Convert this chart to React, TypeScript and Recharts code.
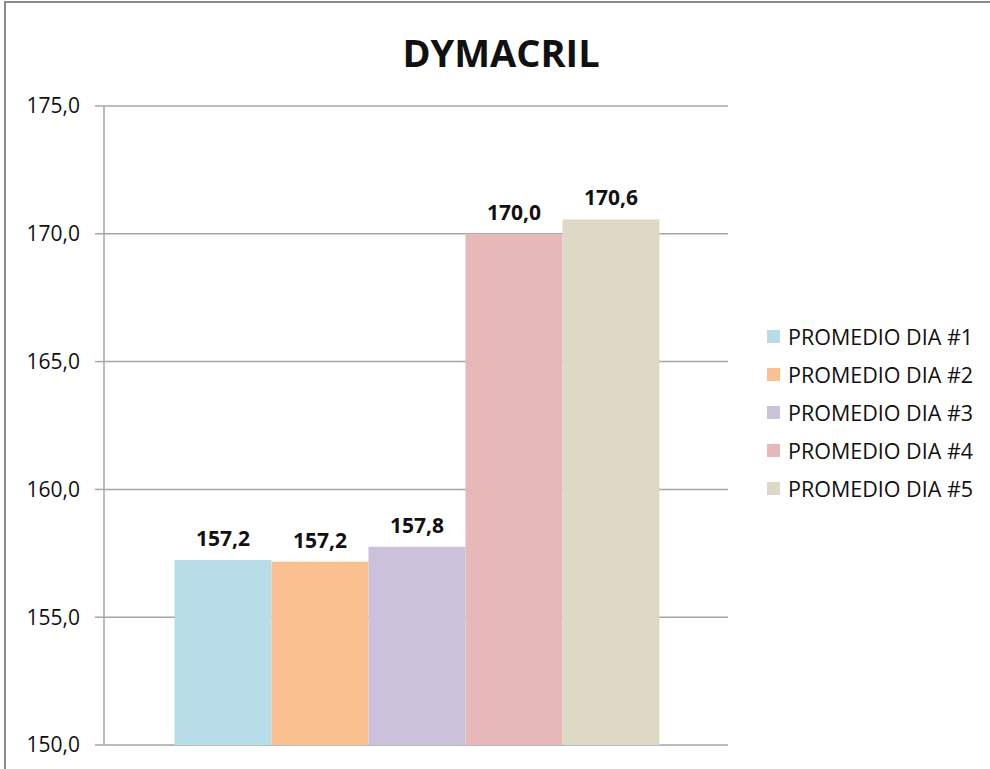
import React from 'react';
import { BarChart, Bar, XAxis, YAxis, CartesianGrid, Legend, LabelList } from 'recharts';

const categories = ['DYMACRIL'];
const seriesNames = ['PROMEDIO DIA #1', 'PROMEDIO DIA #2', 'PROMEDIO DIA #3', 'PROMEDIO DIA #4', 'PROMEDIO DIA #5'];
const seriesValues = [157.24, 157.17, 157.76, 170.0, 170.56];
const seriesColors = ['#B7DDE8', '#FAC090', '#CCC1DA', '#E6B9B8', '#DDD9C4'];
const yTicks = [150, 155, 160, 165, 170, 175];

const FONT = '"Open Sans", "Noto Sans", sans-serif';
const GRID = '#a6a6a6';

const fmt = (v: any) => Number(v).toFixed(1).replace('.', ',');

const data = categories.map(name => {
  const row: any = { name };
  seriesNames.forEach((s, i) => {
    row['s' + i] = seriesValues[i];
  });
  return row;
});

const renderLegend = (props: any) => {
  const { payload } = props;
  return (
    <div>
      {payload.map((entry: any, idx: number) => (
        <div key={idx} style={{ display: 'flex', alignItems: 'center', height: 38 }}>
          <span style={{ display: 'inline-block', width: 13, height: 13, background: entry.color, marginRight: 8 }} />
          <span style={{ fontFamily: FONT, fontSize: 21.5, color: '#111', whiteSpace: 'nowrap' }}>{entry.value}</span>
        </div>
      ))}
    </div>
  );
};

export default function App() {
  return (
    <div style={{ position: 'absolute', left: 0, top: 0, width: 990, height: 769, overflow: 'hidden', background: '#fff' }}>
      {/* chart frame */}
      <div
        style={{
          position: 'absolute',
          left: 4,
          top: 1,
          width: 1100,
          height: 1100,
          border: '2px solid #8c8c8c',
        }}
      />
      <div
        style={{
          position: 'absolute',
          left: 0,
          width: 990,
          top: 26,
          textAlign: 'center',
          fontFamily: FONT,
          fontWeight: 700,
          fontSize: 38,
          color: '#111',
          paddingLeft: 6,
        }}
      >
        DYMACRIL
      </div>
      <BarChart
        width={990}
        height={769}
        data={data}
        margin={{ top: 106, right: 42, left: 0, bottom: 24 }}
        barCategoryGap="11.3%"
        barGap={0}
        style={{ position: 'absolute', left: 0, top: 0 }}
      >
        <CartesianGrid vertical={false} stroke={GRID} strokeWidth={1.5} />
        <XAxis dataKey="name" hide />
        <YAxis
          width={104}
          domain={[150, 175]}
          ticks={yTicks}
          interval={0}
          allowDataOverflow
          tickFormatter={fmt}
          tickSize={9}
          tickMargin={15}
          stroke={GRID}
          strokeWidth={1.5}
          tick={{ fill: '#111', fontFamily: FONT, fontSize: 21 }}
        />
        <Legend
          layout="vertical"
          align="right"
          verticalAlign="top"
          content={renderLegend}
          wrapperStyle={{ left: 767, top: 317, width: 220 }}
        />
        {seriesNames.map((s, i) => (
          <Bar key={s} dataKey={'s' + i} name={s} fill={seriesColors[i]} isAnimationActive={false}>
            <LabelList
              dataKey={'s' + i}
              position="top"
              offset={14}
              formatter={fmt}
              style={{ fill: '#111', fontFamily: FONT, fontSize: 21, fontWeight: 700 }}
            />
          </Bar>
        ))}
      </BarChart>
    </div>
  );
}
